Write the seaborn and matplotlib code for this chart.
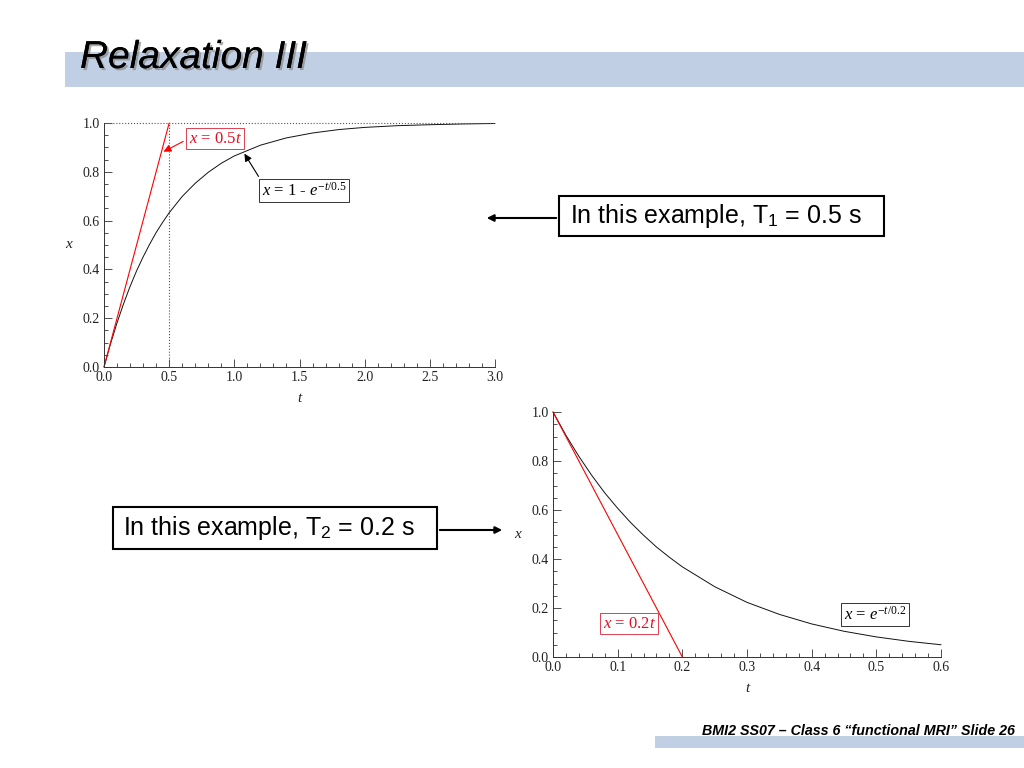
import matplotlib
matplotlib.use("Agg")
import matplotlib.pyplot as plt
import matplotlib.patches as patches
import matplotlib.patheffects as pe
import seaborn as sns

sns.set_theme(style="ticks")
plt.rcParams['font.family'] = ['Liberation Sans', 'DejaVu Sans']
plt.rcParams['text.color'] = 'black'
plt.rcParams['mathtext.fontset'] = 'custom'
plt.rcParams['mathtext.rm'] = 'Liberation Serif'
plt.rcParams['mathtext.it'] = 'Liberation Serif:italic'
plt.rcParams['mathtext.sf'] = 'Liberation Sans'

# T1 recovery curve, x = 1 - e^(-t/0.5)
t1 = [0, 0.05, 0.1, 0.15, 0.2, 0.25, 0.3, 0.35, 0.4, 0.45, 0.5, 0.6, 0.7, 0.8,
      0.9, 1.0, 1.2, 1.4, 1.6, 1.8, 2.0, 2.25, 2.5, 2.75, 3.0]
x1 = [0, 0.095, 0.181, 0.259, 0.330, 0.394, 0.451, 0.503, 0.551, 0.593, 0.632,
      0.699, 0.753, 0.798, 0.835, 0.865, 0.909, 0.939, 0.959, 0.973, 0.982,
      0.989, 0.993, 0.996, 0.998]
t1_line = [0, 0.5]
x1_line = [0, 1.0]

# T2 decay curve, x = e^(-t/0.2)
t2 = [0, 0.02, 0.04, 0.06, 0.08, 0.1, 0.12, 0.14, 0.16, 0.18, 0.2, 0.25, 0.3,
      0.35, 0.4, 0.45, 0.5, 0.55, 0.6]
x2 = [1.0, 0.905, 0.819, 0.741, 0.670, 0.607, 0.549, 0.497, 0.449, 0.407,
      0.368, 0.287, 0.223, 0.174, 0.135, 0.105, 0.082, 0.064, 0.050]
t2_line = [0, 0.2]
x2_line = [1.0, 0]

W, H = 1024, 768


def fx(px):
    return px / W


def fy(py):
    return 1 - py / H


fig = plt.figure(figsize=(10.24, 7.68), dpi=100)
fig.patch.set_facecolor('white')

# title band
fig.add_artist(patches.Rectangle((fx(65), fy(87)), 1 - fx(65), 35 / H,
                                 transform=fig.transFigure, color='#c0cfe3', lw=0))
fig.text(fx(80), fy(68), "Relaxation III", fontsize=28, style='italic',
         color='black', va='baseline',
         path_effects=[pe.withSimplePatchShadow(offset=(1.5, -1.5),
                                                shadow_rgbFace='#888888', alpha=0.7),
                       pe.Normal()])

# footer band
fig.add_artist(patches.Rectangle((fx(655), fy(748)), 1 - fx(655), 12 / H,
                                 transform=fig.transFigure, color='#c0cfe3', lw=0))
fig.text(fx(1015), fy(735), "BMI2 SS07 \u2013 Class 6 \u201cfunctional MRI\u201d Slide 26",
         fontsize=10.3, style='italic', weight='bold', ha='right', va='baseline')


def style_axes(ax, xmaj, xmin, xlim):
    ax.set_xlim(*xlim)
    ax.set_ylim(0, 1)
    ax.set_facecolor('white')
    for s in ['top', 'right']:
        ax.spines[s].set_visible(False)
    for s in ['left', 'bottom']:
        ax.spines[s].set_linewidth(0.7)
        ax.spines[s].set_color('#333333')
    ax.xaxis.set_major_locator(matplotlib.ticker.MultipleLocator(xmaj))
    ax.xaxis.set_minor_locator(matplotlib.ticker.MultipleLocator(xmin))
    ax.yaxis.set_major_locator(matplotlib.ticker.MultipleLocator(0.2))
    ax.yaxis.set_minor_locator(matplotlib.ticker.MultipleLocator(0.05))
    ax.xaxis.set_major_formatter(matplotlib.ticker.FormatStrFormatter('%.1f'))
    ax.yaxis.set_major_formatter(matplotlib.ticker.FormatStrFormatter('%.1f'))
    ax.tick_params(which='major', direction='in', length=6, width=0.6,
                   color='#333333', labelsize=10, labelcolor='#222222', pad=3)
    ax.tick_params(which='minor', direction='in', length=3, width=0.6, color='#333333')
    for lab in ax.get_xticklabels() + ax.get_yticklabels():
        lab.set_family('Liberation Serif')
    ax.set_xlabel("t", fontsize=11, family='Liberation Serif', style='italic',
                  labelpad=6, color='#222222')
    ax.set_ylabel("x", fontsize=11, family='Liberation Serif', style='italic',
                  rotation=0, labelpad=10, va='center', color='#222222')


# ---- top plot: T1 ----
ax1 = fig.add_axes([fx(104), fy(367), (495 - 104) / W, (367 - 123) / H])
sns.lineplot(x=t1, y=x1, ax=ax1, color='#111111', lw=0.7, clip_on=False)
sns.lineplot(x=t1_line, y=x1_line, ax=ax1, color='red', lw=0.8, clip_on=False)
ax1.axhline(1.0, color='#555555', lw=0.8, ls=':', clip_on=False)
ax1.axvline(0.5, color='#555555', lw=0.8, ls=':')
style_axes(ax1, 0.5, 0.1, (0, 3.0))

ax1.annotate(r"$x$ = 0.5$t$", xy=(0.438, 0.877), xytext=(0.852, 0.936),
             color='#e01020', fontsize=12, family='Liberation Serif',
             ha='center', va='center',
             bbox=dict(boxstyle='square,pad=0.15', fc='white', ec='#e04050', lw=0.7),
             arrowprops=dict(arrowstyle='-|>', color='red', lw=0.8,
                             mutation_scale=11, relpos=(0, 0.5)))
ax1.annotate(r"$x$ = 1 - $e^{-t/0.5}$", xy=(1.066, 0.884), xytext=(1.535, 0.723),
             color='black', fontsize=12, family='Liberation Serif',
             ha='center', va='center',
             bbox=dict(boxstyle='square,pad=0.15', fc='white', ec='#333333', lw=0.7),
             arrowprops=dict(arrowstyle='-|>', color='black', lw=0.8,
                             mutation_scale=11, relpos=(0, 1)))

# ---- bottom plot: T2 ----
ax2 = fig.add_axes([fx(553), fy(657), (941 - 553) / W, (657 - 412) / H])
sns.lineplot(x=t2, y=x2, ax=ax2, color='#111111', lw=0.7, clip_on=False)
sns.lineplot(x=t2_line, y=x2_line, ax=ax2, color='red', lw=0.8, clip_on=False)
style_axes(ax2, 0.1, 0.02, (0, 0.6))

ax2.text(0.118, 0.135, r"$x$ = 0.2$t$", color='#e01020', fontsize=12,
         family='Liberation Serif', ha='center', va='center',
         bbox=dict(boxstyle='square,pad=0.15', fc='white', ec='#e04050', lw=0.7))
ax2.text(0.498, 0.173, r"$x$ = $e^{-t/0.2}$", color='black', fontsize=12,
         family='Liberation Serif', ha='center', va='center',
         bbox=dict(boxstyle='square,pad=0.15', fc='white', ec='#333333', lw=0.7))

# ---- slide text boxes with arrows ----
fig.add_artist(patches.Rectangle((fx(559), fy(236)), 325 / W, 40 / H,
                                 transform=fig.transFigure, fc='white', ec='black', lw=1.5))
fig.text(fx(570), fy(216), r"In this example, T$_\mathsf{1}$ = 0.5 s", fontsize=18,
         va='center', ha='left', color='black')
fig.add_artist(patches.FancyArrowPatch((fx(559), fy(218)), (fx(484), fy(218)),
                                       transform=fig.transFigure, arrowstyle='-|>',
                                       mutation_scale=10, lw=1.5, color='black'))

fig.add_artist(patches.Rectangle((fx(113), fy(549)), 324 / W, 42 / H,
                                 transform=fig.transFigure, fc='white', ec='black', lw=1.5))
fig.text(fx(123), fy(528), r"In this example, T$_\mathsf{2}$ = 0.2 s", fontsize=18,
         va='center', ha='left', color='black')
fig.add_artist(patches.FancyArrowPatch((fx(437), fy(530)), (fx(505), fy(530)),
                                       transform=fig.transFigure, arrowstyle='-|>',
                                       mutation_scale=10, lw=1.5, color='black'))

fig.savefig("out.png", dpi=100)
